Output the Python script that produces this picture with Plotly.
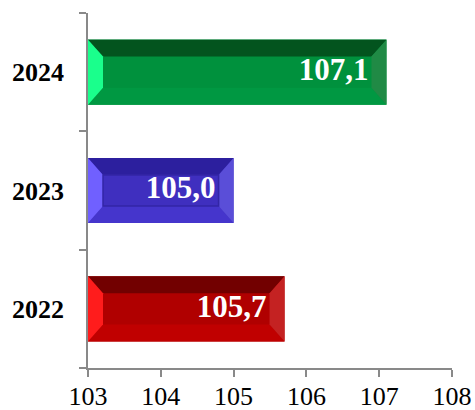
import plotly.graph_objects as go

categories = ["2022", "2023", "2024"]
values = [105.7, 105.0, 107.1]
value_labels = ["105,7", "105,0", "107,1"]
x_ticks = [103, 104, 105, 106, 107, 108]

main_colors = ["#b00000", "#3f2fbf", "#00913d"]
top_colors = ["#720000", "#2c1f9e", "#03541e"]
bottom_colors = ["#c00000", "#4535cc", "#009842"]
left_colors = ["#ff1c1c", "#7060ff", "#1aff8c"]
right_colors = ["#c42222", "#5a4ed8", "#208a45"]
inner_line_colors = [None, "#3326a6", None]

W, H = 475, 410
ML, MR, MT, MB = 88, 23, 13, 42
X_MIN, X_MAX = 103, 108
BAR_W = 0.55

plot_w = W - ML - MR
plot_h = H - MT - MB
px_x = plot_w / (X_MAX - X_MIN)
px_y = plot_h / len(categories)
bx = 15 / px_x
by = 17 / px_y
hh = BAR_W / 2
text_gap = 18 / px_x

fig = go.Figure()
fig.add_trace(go.Bar(
    y=categories, x=[v - X_MIN for v in values], base=X_MIN,
    orientation="h", width=BAR_W,
    marker=dict(color=main_colors, line=dict(width=0)),
    hoverinfo="skip",
))

fig.add_trace(go.Scatter(
    y=categories, x=[v - text_gap for v in values],
    mode="text", text=value_labels, textposition="middle left",
    textfont=dict(family="Liberation Serif", size=31, color="white", weight="bold"),
    hoverinfo="skip",
))

shapes = []
for i, v in enumerate(values):
    x0, x1 = X_MIN, v
    y0, y1 = i - hh, i + hh
    polys = [
        (top_colors[i], [(x0, y1), (x1, y1), (x1 - bx, y1 - by), (x0 + bx, y1 - by)]),
        (bottom_colors[i], [(x0, y0), (x1, y0), (x1 - bx, y0 + by), (x0 + bx, y0 + by)]),
        (left_colors[i], [(x0, y0), (x0, y1), (x0 + bx, y1 - by), (x0 + bx, y0 + by)]),
        (right_colors[i], [(x1, y0), (x1, y1), (x1 - bx, y1 - by), (x1 - bx, y0 + by)]),
    ]
    for col, pts in polys:
        path = "M " + " L ".join(f"{px},{py}" for px, py in pts) + " Z"
        shapes.append(dict(type="path", path=path, xref="x", yref="y",
                           fillcolor=col, line=dict(width=0), layer="above"))
    if inner_line_colors[i]:
        shapes.append(dict(type="rect", xref="x", yref="y",
                           x0=x0 + bx, x1=x1 - bx, y0=y0 + by, y1=y1 - by,
                           line=dict(color=inner_line_colors[i], width=1.5),
                           fillcolor="rgba(0,0,0,0)", layer="above"))

fig.update_layout(
    width=W, height=H,
    margin=dict(l=ML, r=MR, t=MT, b=MB, autoexpand=False),
    paper_bgcolor="white", plot_bgcolor="white",
    showlegend=False,
    shapes=shapes,
    xaxis=dict(
        range=[X_MIN, X_MAX], tickvals=x_ticks, ticktext=[str(t) for t in x_ticks],
        showgrid=False, zeroline=False,
        showline=True, linecolor="#898989", linewidth=1.5,
        ticks="outside", ticklen=7, tickwidth=1.5, tickcolor="#898989",
        tickfont=dict(family="Liberation Serif", size=26, color="black"),
        ticklabelstandoff=-3,
    ),
    yaxis=dict(
        type="category", range=[-0.5, len(categories) - 0.5],
        showgrid=False, zeroline=False,
        showline=True, linecolor="#898989", linewidth=1.5,
        ticks="outside", ticklen=7, tickwidth=1.5, tickcolor="#898989",
        tickson="boundaries",
        tickfont=dict(family="Liberation Serif", size=26, color="black", weight="bold"),
        ticklabelstandoff=17,
    ),
)

fig.write_html("out.html", config={"displayModeBar": False},
               post_script="document.body.style.margin='0';")
